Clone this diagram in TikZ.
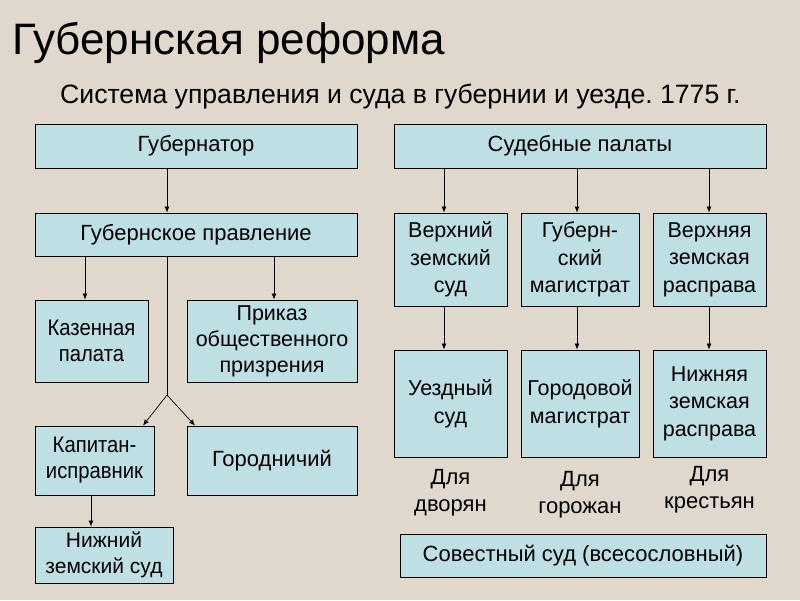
\documentclass[tikz,border=0pt]{standalone}
\usepackage{fontspec}
\setmainfont{Liberation Sans}
\newfontfamily\narrowfont{Liberation Sans}[FakeStretch=0.9]
\frenchspacing
\usetikzlibrary{arrows.meta}
\definecolor{bg}{RGB}{224,216,204}
\definecolor{boxfill}{RGB}{190,224,228}
\tikzset{
  box/.style={draw=black, line width=0.9pt, fill=boxfill, inner sep=0pt, align=center,
    font=\fontsize{21.5}{27.5}\selectfont},
  nbox/.style={box, font=\narrowfont\fontsize{22.5}{26}\selectfont},
  sbox/.style={box, font=\fontsize{22}{26}\selectfont},
  lbl/.style={inner sep=0pt, align=center, font=\fontsize{22}{27}\selectfont},
  arr/.style={draw=black, line width=0.7pt, -{Latex[length=6pt,width=5pt]}},
  ln/.style={draw=black, line width=0.7pt}
}
\begin{document}
\begin{tikzpicture}[x=1pt,y=-1pt]
\fill[bg] (0,0) rectangle (800,600);
\useasboundingbox (0,0) rectangle (800,600);
% titles
\node[anchor=base west, inner sep=0pt, font=\fontsize{44}{50}\selectfont] (title) at (12,54) {Губернская реформа};
\node[anchor=base west, inner sep=0pt, font=\fontsize{26.6}{30}\selectfont] (subtitle) at (60,103) {Система управления и суда в губернии и уезде. 1775 г.};
% left column
\node[sbox, minimum width=322, minimum height=44] (gub) at (196,146) {Губернатор};
\node[sbox, minimum width=322, minimum height=43] (prav) at (196,234.5) {Губернское правление};
\node[nbox, minimum width=113, minimum height=82] (kaz) at (91.5,341) {Казенная\\палата};
\node[box, minimum width=170, minimum height=82, font=\fontsize{21.5}{26}\selectfont] (prik) at (272,341) {Приказ\\общественного\\призрения};
\node[nbox, minimum width=119, minimum height=69] (kap) at (94.5,460.5) {Капитан-\\исправник};
\node[sbox, minimum width=170, minimum height=69] (gorod) at (272,460.5) {Городничий};
\node[box, font=\fontsize{21}{26}\selectfont, minimum width=138, minimum height=56] (nzs) at (104,555) {Нижний\\земский суд};
% right column
\node[sbox, minimum width=372, minimum height=44] (sud) at (580,146) {Судебные палаты};
\node[box, minimum width=113, minimum height=93] (vzs) at (450.5,259.5) {Верхний\\земский\\суд};
\node[box, minimum width=118, minimum height=93] (gm) at (580,259.5) {Губерн-\\ский\\магистрат};
\node[box, minimum width=113, minimum height=93] (vzr) at (709.5,259.5) {Верхняя\\земская\\расправа};
\node[box, minimum width=113, minimum height=107] (uezd) at (450.5,403.5) {Уездный\\суд};
\node[box, minimum width=118, minimum height=107] (gorm) at (580,403.5) {Городовой\\магистрат};
\node[box, minimum width=113, minimum height=107] (nzr) at (709.5,403.5) {Нижняя\\земская\\расправа};
\node[lbl] (l1) at (450.5,493) {Для\\дворян};
\node[lbl] (l2) at (580,495) {Для\\горожан};
\node[lbl] (l3) at (709.5,490) {Для\\крестьян};
\node[sbox, minimum width=366, minimum height=43] (sov) at (583,555.5) {Совестный суд (всесословный)};
% coordinates for connector x positions
\coordinate (x167) at (167,0);
\coordinate (x85) at (85,0);
\coordinate (x274) at (274,0);
\coordinate (x91) at (91,0);
\coordinate (x143) at (143,0);
\coordinate (x195) at (195,0);
\coordinate (x444) at (444,0);
\coordinate (x577) at (577,0);
\coordinate (x709) at (709,0);
\coordinate (split) at (167,395);
% connectors left
\draw[arr] (gub.south -| x167) -- (prav.north -| x167);
\draw[arr] (prav.south -| x85) -- (kaz.north -| x85);
\draw[arr] (prav.south -| x274) -- (prik.north -| x274);
\draw[ln] (prav.south -| x167) -- (split);
\draw[arr] (split) -- (kap.north -| x143);
\draw[arr] (split) -- (gorod.north -| x195);
\draw[arr] (kap.south -| x91) -- (nzs.north -| x91);
% connectors right
\draw[arr] (sud.south -| x444) -- (vzs.north -| x444);
\draw[arr] (sud.south -| x577) -- (gm.north -| x577);
\draw[arr] (sud.south -| x709) -- (vzr.north -| x709);
\draw[arr] (vzs.south -| x444) -- (uezd.north -| x444);
\draw[arr] (gm.south -| x577) -- (gorm.north -| x577);
\draw[arr] (vzr.south -| x709) -- (nzr.north -| x709);
\end{tikzpicture}
\end{document}
